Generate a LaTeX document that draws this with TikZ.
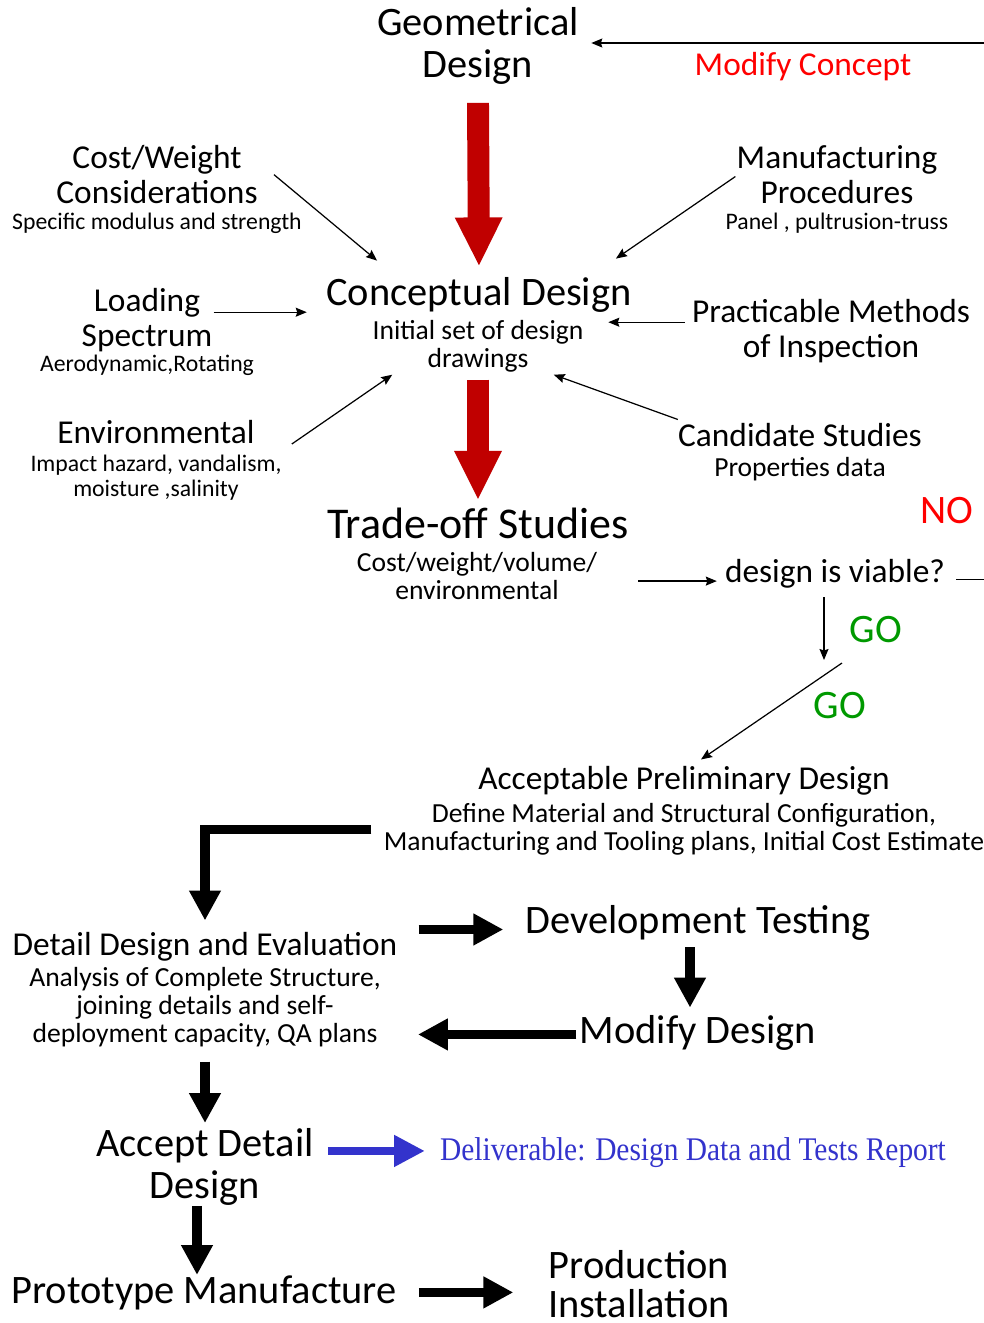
\documentclass[tikz,border=0pt]{standalone}
\usepackage{fontspec}
\setmainfont{Carlito}
\newfontfamily\delivfont{Liberation Serif}[FakeStretch=0.89]
\usetikzlibrary{calc, positioning}
\usetikzlibrary{arrows.meta}
\definecolor{flowred}{RGB}{192,0,0}
\definecolor{delivblue}{RGB}{51,51,204}
\definecolor{gogreen}{RGB}{0,153,0}

\begin{document}
\begin{tikzpicture}[x=0.02cm, y=-0.02cm,
    head/.style={font=\fontsize{23}{24}\selectfont, align=center, inner sep=0pt},
    side/.style={font=\fontsize{19}{20}\selectfont, align=center, inner sep=0pt},
    note/.style={font=\fontsize{13.5}{14.2}\selectfont, align=center, inner sep=0pt},
    mnote/.style={font=\fontsize{15.7}{16}\selectfont, align=center, inner sep=0pt},
    thinarr/.style={-{Stealth[length=2.2mm, width=1.8mm, inset=0.3mm]}, line width=0.7pt},
    fatarr/.style={line width=5.4pt, -{Triangle[length=17pt, width=17pt]}},
    redarr/.style={draw=flowred, line width=12.5pt, -{Triangle[length=28pt, width=25pt]}},
    bluearr/.style={draw=delivblue, line width=4.5pt, -{Triangle[length=17.5pt, width=17pt]}}]
\useasboundingbox (0,0) rectangle (984,1323);

\node[head, anchor=north] (geo) at (478,7) {Geometrical\\Design};
\node[side, anchor=base, text=red] (modcon) at (803,75) {Modify Concept};

\node[side, anchor=north] (cost) at (157,145) {Cost/Weight\\Considerations};
\node[note, anchor=base] (costnote) at (157,229) {Specific modulus and strength};
\node[side, anchor=north] (manu) at (837,145) {Manufacturing\\Procedures};
\node[note, anchor=base] (manunote) at (837,229) {Panel , pultrusion-truss};

\node[head, anchor=base] (concept) at (479,305) {Conceptual Design};
\node[mnote, anchor=north] (conceptnote) at (478,320) {Initial set of design\\drawings};
\node[side, anchor=north] (load) at (147,288) {Loading\\Spectrum};
\node[note, anchor=base] (loadnote) at (147,371) {Aerodynamic,Rotating};
\node[side, anchor=north] (inspect) at (831,299) {Practicable Methods\\of Inspection};
\node[side, anchor=base] (env) at (156,443) {Environmental};
\node[note, anchor=north] (envnote) at (156,455) {Impact hazard, vandalism,\\moisture ,salinity};
\node[side, anchor=base] (cand) at (800,446) {Candidate Studies};
\node[mnote, anchor=base] (candnote) at (800,476) {Properties data};

\node[head, anchor=base, font=\fontsize{25}{26}\selectfont] (trade) at (478,538) {Trade-off Studies};
\node[mnote, anchor=north] (tradenote) at (477,552) {Cost/weight/volume/\\environmental};
\node[side, anchor=base] (viable) at (835,582) {design is viable?};
\node[head, anchor=base, text=red] (no) at (947,523) {NO};
\node[head, anchor=base, text=gogreen] (go1) at (876,642) {GO};
\node[head, anchor=base, text=gogreen] (go2) at (840,718) {GO};

\node[side, anchor=base] (prelim) at (684,789) {Acceptable Preliminary Design};
\node[mnote, anchor=north] (prelimnote) at (684,803)
    {Define Material and Structural Configuration,\\Manufacturing and Tooling plans, Initial Cost Estimate};
\node[side, anchor=base] (detail) at (205,955) {Detail Design and Evaluation};
\node[mnote, anchor=north] (detailnote) at (205,967)
    {Analysis of Complete Structure,\\joining details and self-\\deployment capacity, QA plans};
\node[head, anchor=base] (develop) at (698,933) {Development Testing};
\node[head, anchor=base] (modify) at (698,1043) {Modify Design};
\node[head, anchor=north] (accept) at (205,1128) {Accept Detail\\Design};
\node[anchor=base, inner sep=0pt, text=delivblue, font=\delivfont\fontsize{18.8}{20}\selectfont]
    (deliver) at (693,1160) {Deliverable: Design Data and Tests Report};
\node[head, anchor=base] (proto) at (204,1303) {Prototype Manufacture};
\node[head, anchor=north, font=\fontsize{23}{22}\selectfont] (prodinst) at (639,1250) {Production\\Installation};

\coordinate (conceptback) at (984,43);
\coordinate (noback) at (984,580);
\coordinate (godown) at (824,660);
\coordinate (goslant) at (842,663);

\draw[thinarr, shorten >=7pt] (conceptback) -- (conceptback -| geo.east);
\draw[redarr] ($(geo.south)+(0,18)$) -- ($(concept.north)+(0,-10)$);

\draw[thinarr] ($(cost.east)+(16,0)$) -- ($(concept.north west)+(51,-16)$);
\draw[thinarr] ($(manu.west)+(-1,2)$) -- ($(concept.north east)+(-16,-18)$);
\draw[thinarr, shorten >=11pt] ($(load.east)+(1,-8)$) coordinate (lo) -- (lo -| concept.west);
\draw[thinarr, shorten >=14pt] ($(inspect.west)+(-7,-9)$) coordinate (ins) -- (ins -| conceptnote.east);
\draw[thinarr] ($(envnote.north east)+(10,-11)$) -- ($(conceptnote.south west)+(20,2)$);
\draw[thinarr] ($(cand.north west)+(0,-3)$) -- ($(conceptnote.south east)+(-30,2)$);
\draw[redarr] ($(conceptnote.south)+(0,7)$) -- ($(trade.north)+(0,-7)$);

\draw[thinarr, shorten >=4.5pt] ($(tradenote.east)+(41,5)$) coordinate (tr) -- (tr -| viable.west);
\draw[line width=0.7pt] ($(viable.east)+(11,6)$) coordinate (vi) -- (vi -| noback);
\draw[thinarr] ($(godown |- viable.south)+(0,9)$) -- (godown);
\draw[thinarr] (goslant) -- ($(prelim.north)+(17,-6)$);

\draw[fatarr, line join=miter] ($(prelimnote.west)+(-12,0)$) -| ($(detail.north)+(0,-11)$);
\draw[fatarr, shorten >=12.5pt] ($(detail.north east)+(21,-2)$) coordinate (de) -- (de -| develop.west);
\draw[fatarr] ($(develop.south)+(-8,7)$) -- ($(modify.north)+(-8,-7)$);
\draw[fatarr, shorten >=21pt] ($(modify.west)+(-3,2)$) coordinate (md) -- (md -| detailnote.east);
\draw[fatarr] ($(detailnote.south)+(0,14)$) -- ($(accept.north)+(0,-5)$);
\draw[bluearr, shorten >=8.5pt] ($(accept.east)+(14,-16)$) coordinate (ac) -- (ac -| deliver.west);
\draw[fatarr] ($(accept.south)+(-8,0)$) -- ($(proto.north)+(-7,0)$);
\draw[fatarr, shorten >=19.6pt] ($(proto.east)+(22,0)$) coordinate (pr) -- (pr -| prodinst.west);
\end{tikzpicture}
\end{document}
